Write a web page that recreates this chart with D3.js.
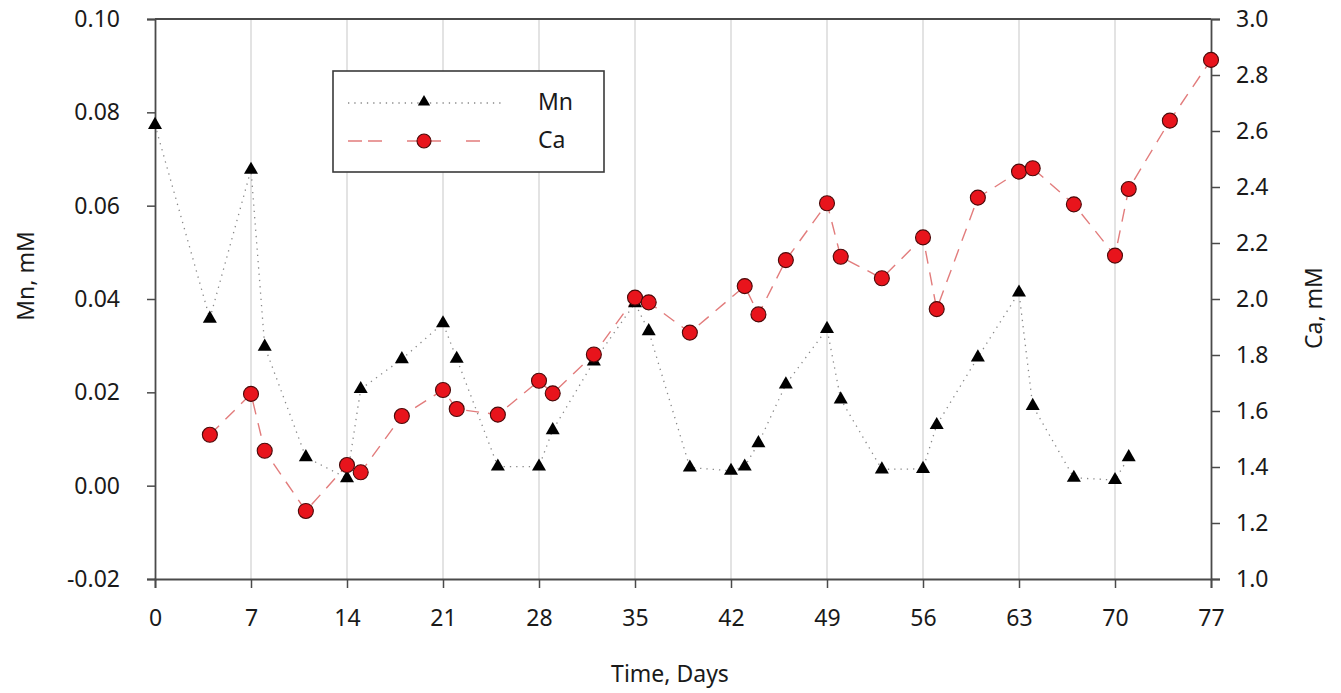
<!DOCTYPE html>
<html>
<head>
<meta charset="utf-8">
<script src="https://cdn.jsdelivr.net/npm/d3@7"></script>
<style>
  html, body { margin: 0; padding: 0; background: #fff; }
  svg text { font-family: "Noto Sans", "Open Sans", sans-serif; fill: #1a1a1a; }
</style>
</head>
<body>
<svg id="chart" width="1341" height="693"></svg>
<script>
// ---- data ----
const mnDays = [0, 4, 7, 8, 11, 14, 15, 18, 21, 22, 25, 28, 29, 32, 35, 36, 39, 42, 43, 44, 46, 49, 50, 53, 56, 57, 60, 63, 64, 67, 70, 71];
const mnValues = [0.0773, 0.0358, 0.0677, 0.0298, 0.0061, 0.0016, 0.0207, 0.0271, 0.0348, 0.0272, 0.0041, 0.0041, 0.0119, 0.0266, 0.0391, 0.0331, 0.0039, 0.0032, 0.0041, 0.0091, 0.0217, 0.0336, 0.0185, 0.0035, 0.0036, 0.0130, 0.0275, 0.0414, 0.0171, 0.0017, 0.0012, 0.0061];
const caDays = [4, 7, 8, 11, 14, 15, 18, 21, 22, 25, 28, 29, 32, 35, 36, 39, 43, 44, 46, 49, 50, 53, 56, 57, 60, 63, 64, 67, 70, 71, 74, 77];
const caValues = [1.515, 1.661, 1.458, 1.243, 1.407, 1.381, 1.582, 1.675, 1.607, 1.587, 1.708, 1.663, 1.802, 2.005, 1.988, 1.880, 2.046, 1.945, 2.139, 2.342, 2.151, 2.074, 2.220, 1.964, 2.362, 2.455, 2.467, 2.338, 2.155, 2.393, 2.637, 2.854];
const xTicks = [0, 7, 14, 21, 28, 35, 42, 49, 56, 63, 70, 77];
const leftTicks = [-0.02, 0.00, 0.02, 0.04, 0.06, 0.08, 0.10];
const leftTickLabels = ["-0.02", "0.00", "0.02", "0.04", "0.06", "0.08", "0.10"];
const rightTicks = [1.0, 1.2, 1.4, 1.6, 1.8, 2.0, 2.2, 2.4, 2.6, 2.8, 3.0];
const seriesNames = ["Mn", "Ca"];
const xTitle = "Time, Days";
const leftTitle = "Mn, mM";
const rightTitle = "Ca, mM";

// ---- layout ----
const L = 155, R = 1211, T = 19, B = 579;
const svg = d3.select("#chart");

const x = d3.scaleLinear().domain([0, 77]).range([L, R]);
const yL = d3.scaleLinear().domain([-0.02, 0.10]).range([B, T]);
const yR = d3.scaleLinear().domain([1.0, 3.0]).range([B, T]);

const axisColor = "#4a4a4a";
const fontSize = 23;

// gridlines
svg.append("g").selectAll("line").data(xTicks.filter(d => d > 0 && d < 77)).join("line")
  .attr("x1", d => x(d)).attr("x2", d => x(d))
  .attr("y1", T).attr("y2", B)
  .attr("stroke", "#d4d4d4").attr("stroke-width", 1.3);

// frame top
svg.append("line").attr("x1", L).attr("x2", R).attr("y1", T).attr("y2", T)
  .attr("stroke", axisColor).attr("stroke-width", 1.8);

// bottom axis
const gx = svg.append("g").attr("transform", `translate(0,${B})`)
  .call(d3.axisBottom(x).tickValues(xTicks).tickFormat(d3.format("d")).tickSize(9).tickPadding(22));
// left axis
const gl = svg.append("g").attr("transform", `translate(${L},0)`)
  .call(d3.axisLeft(yL).tickValues(leftTicks).tickFormat((d, i) => leftTickLabels[i]).tickSize(8).tickPadding(27));
// right axis
const gr = svg.append("g").attr("transform", `translate(${R},0)`)
  .call(d3.axisRight(yR).tickValues(rightTicks).tickFormat(d3.format(".1f")).tickSize(9).tickPadding(16));

[gx, gl, gr].forEach(g => {
  g.select(".domain").attr("stroke", axisColor).attr("stroke-width", 1.8);
  g.selectAll(".tick line").attr("stroke", axisColor).attr("stroke-width", 1.5);
  g.selectAll(".tick text").attr("font-size", fontSize).attr("fill", "#1a1a1a")
    .attr("font-family", '"Noto Sans", sans-serif');
});

// axis titles
svg.append("text").attr("x", 670).attr("y", 676).attr("text-anchor", "middle")
  .attr("dominant-baseline", "middle").attr("font-size", fontSize).text(xTitle);
svg.append("text").attr("transform", "translate(28,276) rotate(-90)").attr("text-anchor", "middle")
  .attr("dominant-baseline", "middle").attr("font-size", fontSize).text(leftTitle);
svg.append("text").attr("transform", "translate(1316,308) rotate(-90)").attr("text-anchor", "middle")
  .attr("dominant-baseline", "middle").attr("font-size", fontSize).text(rightTitle);

// data
const mnData = mnDays.map((d, i) => ({ x: d, y: mnValues[i] }));
const caData = caDays.map((d, i) => ({ x: d, y: caValues[i] }));

const mnLine = d3.line().x(d => x(d.x)).y(d => yL(d.y));
const caLine = d3.line().x(d => x(d.x)).y(d => yR(d.y));

const mnStyle = { stroke: "#888", width: 1.3, dash: "1.3,5" };
const caStyle = { stroke: "#e27c7c", width: 1.4, dash: "13,9" };

svg.append("path").datum(mnData).attr("d", mnLine).attr("fill", "none")
  .attr("stroke", mnStyle.stroke).attr("stroke-width", mnStyle.width).attr("stroke-dasharray", mnStyle.dash);
svg.append("path").datum(caData).attr("d", caLine).attr("fill", "none")
  .attr("stroke", caStyle.stroke).attr("stroke-width", caStyle.width).attr("stroke-dasharray", caStyle.dash);

const tri = d3.symbol().type(d3.symbolTriangle).size(85);
const triSmall = d3.symbol().type(d3.symbolTriangle).size(65);

svg.append("g").selectAll("path").data(mnData).join("path")
  .attr("d", tri).attr("transform", d => `translate(${x(d.x)},${yL(d.y)})`)
  .attr("fill", "#000");

svg.append("g").selectAll("circle").data(caData).join("circle")
  .attr("cx", d => x(d.x)).attr("cy", d => yR(d.y)).attr("r", 7.5)
  .attr("fill", "#e8141c").attr("stroke", "#4a0a0a").attr("stroke-width", 1.1);

// legend
const lg = svg.append("g");
lg.append("rect").attr("x", 333).attr("y", 71).attr("width", 271).attr("height", 101)
  .attr("fill", "#fff").attr("stroke", "#3a3a3a").attr("stroke-width", 1.6);
// Mn row
lg.append("line").attr("x1", 348).attr("x2", 503).attr("y1", 103).attr("y2", 103)
  .attr("stroke", mnStyle.stroke).attr("stroke-width", mnStyle.width).attr("stroke-dasharray", mnStyle.dash);
lg.append("path").attr("d", triSmall).attr("transform", "translate(424,102)").attr("fill", "#000");
lg.append("text").attr("x", 538).attr("y", 104).attr("dominant-baseline", "middle")
  .attr("font-size", fontSize).text(seriesNames[0]);
// Ca row
lg.append("line").attr("x1", 348).attr("x2", 486).attr("y1", 141).attr("y2", 141)
  .attr("stroke", caStyle.stroke).attr("stroke-width", caStyle.width).attr("stroke-dasharray", "14,6,14,25");
lg.append("circle").attr("cx", 424).attr("cy", 141).attr("r", 7)
  .attr("fill", "#e8141c").attr("stroke", "#4a0a0a").attr("stroke-width", 1.1);
lg.append("text").attr("x", 538).attr("y", 142).attr("dominant-baseline", "middle")
  .attr("font-size", fontSize).text(seriesNames[1]);
</script>
</body>
</html>
